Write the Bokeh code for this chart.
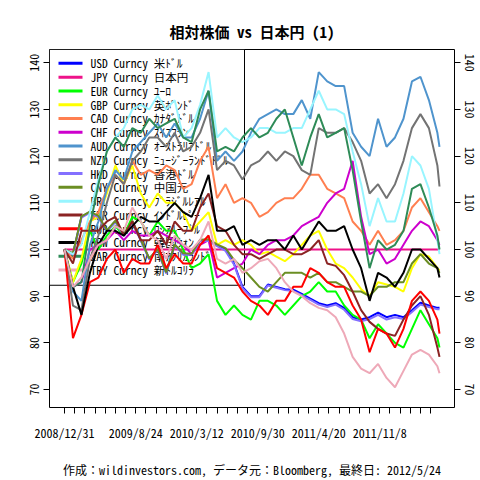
from bokeh.plotting import figure
from bokeh.models import FixedTicker, LinearAxis, Range1d
from bokeh.core.properties import value
from bokeh.embed import file_html
from bokeh.resources import INLINE

# ---------------- data ----------------
# trading-day index of each sample (day 0 = 2008/12/31, last = 2012/5/24)
sample_day = [0, 20, 40, 60, 80, 100, 120, 140, 160, 180, 200, 220, 240, 260, 280,
              300, 320, 340, 360, 380, 400, 420, 440, 460, 480, 500, 520, 540, 560,
              580, 600, 620, 640, 660, 680, 700, 720, 740, 760, 780, 800, 820, 840,
              860, 880, 885]

usd = [100, 99, 107, 108, 107, 104, 106, 103, 106, 102, 98, 100, 95, 101, 99, 99, 102, 102, 101, 100, 97,
       92, 90, 90, 92.5, 92, 91.5, 91.4, 90.5, 89.5, 88.5, 88, 88.5, 87.5, 85.5, 85, 85.5, 86.5, 85.5, 86,
       85.5, 87, 88.6, 88, 87.5, 87.5]
jpy = [100, 100, 100, 100, 100, 100, 100, 100, 100, 100, 100, 100, 100, 100, 100, 100, 100, 100, 100, 100,
       100, 100, 100, 100, 100, 100, 100, 100, 100, 100, 100, 100, 100, 100, 100, 100, 100, 100, 100, 100,
       100, 100, 100, 100, 100, 100]
eur = [100, 93, 97, 104, 100, 103, 105, 103, 107, 106, 103, 106, 104, 104, 100, 96, 97, 99, 89, 86, 88,
       86, 85, 89, 89, 88, 86, 88, 90, 91, 93, 91, 91, 88, 86, 85, 81, 84, 82, 80, 79, 83, 87, 84, 81, 79]
gbp = [100, 93, 98, 106, 107, 112, 118, 114, 118, 112, 109, 112, 110, 110, 108, 104, 106, 108, 101, 102, 101,
       102, 101, 99, 99.5, 98.5, 97.5, 99, 101, 103, 104, 100, 97, 96, 94, 91.5, 90, 93, 92.5, 92, 91, 96,
       99, 98.5, 96, 95.5]
cad = [100, 98, 102, 106, 108, 113, 116, 114, 119, 116, 117, 116, 118, 117, 113, 114, 119, 122, 111, 114, 110,
       111, 110, 107, 108, 110, 111, 111, 113, 116, 116, 113, 112, 111, 106, 104, 101, 104, 101, 102, 104,
       109, 111, 108, 105, 104]
chf = [100, 92, 93, 100, 101, 102, 104, 102, 104, 103, 103, 104, 103, 102, 101, 99, 101, 102, 94, 95, 96,
       97, 100, 99, 101, 102, 102, 103, 105, 106, 107, 110, 112, 113, 119, 107, 99, 100, 97, 98, 101, 104,
       106, 105, 102, 101]
aud = [100, 91, 89, 101, 106, 113, 117, 115, 121, 123, 125, 127, 124, 127, 124, 124, 128, 134, 119, 121, 119,
       121, 125, 128, 129, 130, 129, 129, 132, 128, 138, 136, 135, 135, 125, 122, 120, 128, 122, 124, 128,
       136, 137, 132, 125, 122]
nzd = [100, 88, 87, 98, 103, 110, 116, 114, 119, 121, 124, 124, 122, 125, 121, 122, 125, 130, 117, 119, 118,
       115, 118, 119, 121, 119, 121, 120, 117, 116, 126, 125, 125, 126, 123, 119, 112, 114, 111, 114, 119,
       126, 129, 126, 118, 113.5]
hkd = [100, 98.9, 106.8, 107.9, 106.9, 103.9, 105.9, 102.9, 105.9, 101.9, 97.9, 99.9, 94.9, 100.9, 98.9,
       98.9, 101.8, 101.8, 100.7, 99.7, 96.8, 91.7, 89.8, 89.8, 92.3, 91.8, 91.3, 91.1, 90.2, 89.2, 88.2,
       87.7, 88.2, 87.1, 85.1, 84.6, 85.1, 86.0, 85.0, 85.5, 85.1, 86.6, 88.2, 87.7, 87.2, 87.2]
cny = [100, 99.2, 107.1, 108.1, 107.2, 104.1, 106.2, 103.1, 106.2, 102.1, 98.1, 100.1, 95.1, 101.1, 99.2,
       99.1, 102.1, 102.2, 101.1, 100.3, 97.8, 96, 94, 92, 91, 93, 95, 95, 95, 94, 95, 93, 93, 92, 91, 91,
       90, 92, 92, 93, 93, 97, 99, 97, 96, 95]
brl = [100, 99, 101, 108, 115, 121, 124, 126, 130, 131, 130, 133, 130, 132, 124, 126, 131, 138, 124, 126, 124,
       123, 124, 126, 126, 125, 125, 126, 126, 130, 134, 130, 130, 129, 121, 114, 105, 111, 106, 106, 112,
       120, 118, 113, 102, 99]
inr = [100, 97, 104, 104, 104, 106, 107, 103, 106, 102, 102, 104, 101, 106, 104, 104, 109, 112, 105, 104, 101,
       99, 99, 98, 99, 100, 100, 99, 99, 100, 102, 97, 96.5, 94.5, 91, 87, 84.5, 83, 82, 81.5, 85, 88, 90,
       86, 79, 77]
rub = [100, 81, 86, 93, 94, 98, 100, 95, 98, 97, 97, 101, 96, 99, 97, 97, 101, 103, 96, 95, 94,
       91, 89, 88, 86, 89, 89, 92, 92, 96, 95, 93, 92, 92, 88, 85, 78, 83, 82, 79, 83, 89, 91, 89, 85, 82]
krw = [100, 92, 86, 95, 101, 104, 104, 103, 105, 107, 106, 106, 108, 110, 108, 107, 111, 116, 104, 104, 105,
       101, 102, 101, 102, 102, 100, 103, 100, 103, 106, 104, 104, 105, 100, 96, 89, 95, 94, 92, 95, 100,
       100, 98, 96, 94]
zar = [100, 92, 93, 105, 114, 121, 124, 122, 126, 125, 128, 126, 127, 128, 124, 123, 130, 134, 121, 122, 121,
       124, 126, 124, 125, 128, 130, 124, 118, 124, 129, 124, 125, 126, 117, 106, 96, 102, 100, 101, 104,
       113, 114, 109, 103, 100]
try_ = [100, 92, 94, 98, 101, 102, 105, 104, 109, 106, 103, 102, 98, 103, 101, 100, 102, 106, 98, 97, 98,
        95, 96, 97.5, 98, 96, 93, 91, 90, 88.5, 87.5, 87, 85.5, 82, 77, 74.5, 73.5, 75.5, 72.5, 70.5, 74,
        77.5, 78.5, 77.5, 75, 73.5]

series_values = [usd, jpy, eur, gbp, cad, chf, aud, nzd, hkd, cny, brl, inr, rub, krw, zar, try_]
series_labels = ["USD Curncy 米ﾄﾞﾙ", "JPY Curncy 日本円", "EUR Curncy ﾕｰﾛ", "GBP Curncy 英ﾎﾟﾝﾄﾞ",
                 "CAD Curncy ｶﾅﾀﾞﾄﾞﾙ", "CHF Curncy ｽｲｽﾌﾗﾝ", "AUD Curncy ｵｰｽﾄﾗﾘｱﾄﾞﾙ",
                 "NZD Curncy ﾆｭｰｼﾞｰﾗﾝﾄﾞﾄﾞﾙ", "HKD Curncy 香港ﾄﾞﾙ", "CNY Curncy 中国元",
                 "BRL Curncy ﾌﾞﾗｼﾞﾙﾚｱﾙ", "INR Curncy ｲﾝﾄﾞﾙﾋﾟｰ", "RUB Curncy ﾛｼｱﾙｰﾌﾞﾙ",
                 "KRW Curncy 韓国ｳｫﾝ", "ZAR Curncy 南ｱﾌﾘｶﾗﾝﾄﾞ", "TRY Curncy 新ﾄﾙｺﾘﾗ"]
series_colors = ["#0000FF", "#EE1289", "#00FF00", "#FFFF00", "#FF7F50", "#CD00CD", "#4F94CD", "#737373",
                 "#8470FF", "#6B8E23", "#98F5FF", "#8B2323", "#FF0000", "#000000", "#2E8B57", "#EEA9B8"]

tick_days = [0, 24, 48, 72, 96, 120, 144, 168, 192, 216, 240, 264, 288, 312, 336, 360, 384, 408, 432,
             456, 480, 504, 528, 552, 576, 600, 624, 648, 672, 696, 720, 744, 768, 792, 816, 840, 864]
label_days = [0, 168, 312, 456, 600, 744]
label_dates = ["2008/12/31", "2009/8/24", "2010/3/12", "2010/9/30", "2011/4/20", "2011/11/8"]
y_ticks = [70, 80, 90, 100, 110, 120, 130, 140]

title_text = "相対株価 vs 日本円 (1)"
footer_text = "作成：wildinvestors.com, データ元：Bloomberg, 最終日: 2012/5/24"

FONT = "Noto Sans Mono CJK JP"

# ---------------- layout (pixels) ----------------
W, H = 480, 480
FL, FR, FT, FB = 49, 454, 49, 418          # plot frame edges in pixels
X0, X1 = -35.4, 920.4                       # R-style 4% padded ranges
Y0, Y1 = 66.16, 142.84


def px_x(px):
    return X0 + (px - FL) / (FR - FL) * (X1 - X0)


def px_y(py):
    return Y1 - (py - FT) / (FB - FT) * (Y1 - Y0)


p = figure(width=W, height=H, output_backend="svg", toolbar_location=None,
           x_range=Range1d(X0, X1), y_range=Range1d(Y0, Y1),
           min_border_left=FL, min_border_right=W - FR, min_border_top=FT, min_border_bottom=H - FB)
p.background_fill_color = "white"
p.border_fill_color = "white"
p.xgrid.visible = False
p.ygrid.visible = False
p.outline_line_color = "black"
p.outline_line_alpha = 1.0
p.outline_line_width = 1

p.title.text = title_text
p.title.align = "center"
p.title.text_font = FONT
p.title.text_font_size = "15px"
p.title.text_font_style = "bold"
p.title.text_color = "black"
p.title.standoff = 16


def style_axis(ax, size):
    ax.axis_line_color = None
    ax.major_tick_out = 6
    ax.major_tick_in = 0
    ax.minor_tick_out = 0
    ax.minor_tick_in = 0
    ax.major_tick_line_color = "black"
    ax.major_label_text_font = FONT
    ax.major_label_text_font_size = size
    ax.major_label_text_color = "black"


xax = p.xaxis[0]
xax.ticker = FixedTicker(ticks=tick_days)
overrides = {d: "" for d in tick_days}
for d, s in zip(label_days, label_dates):
    overrides[d] = s
xax.major_label_overrides = overrides
style_axis(xax, "12px")
xax.major_label_standoff = 10
xax.axis_label = footer_text
xax.axis_label_text_font = FONT
xax.axis_label_text_font_size = "12px"
xax.axis_label_text_font_style = "normal"
xax.axis_label_text_color = "black"
xax.axis_label_standoff = 17

yax = p.yaxis[0]
yax.ticker = FixedTicker(ticks=y_ticks)
yax.major_label_orientation = "vertical"
style_axis(yax, "12px")
yax.major_label_standoff = 4

rax = LinearAxis(ticker=FixedTicker(ticks=y_ticks), major_label_orientation="vertical")
style_axis(rax, "12px")
rax.major_label_standoff = 4
p.add_layout(rax, "right")

# ---------------- legend (drawn first, so the series lines pass over it) ----------------
LEG_R, LEG_B = 244, 292
ROW0, ROW_STEP = 63.3, 14.2
p.quad(left=[px_x(FL)], right=[px_x(LEG_R)], top=[px_y(FT)], bottom=[px_y(LEG_B)],
       fill_color="white", line_color="black", line_width=1)
rows_y = [px_y(ROW0 + i * ROW_STEP) for i in range(len(series_labels))]
p.segment(x0=[px_x(58)] * len(rows_y), x1=[px_x(82)] * len(rows_y), y0=rows_y, y1=rows_y,
          line_color=series_colors, line_width=3)
p.text(x=[px_x(90)] * len(rows_y), y=rows_y, text=series_labels,
       text_font=value(FONT), text_font_size=value("11.5px"), text_color="black",
       text_baseline="middle", text_align="left")

# ---------------- series ----------------
for vals, col in zip(series_values, series_colors):
    p.line(sample_day, vals, line_color=col, line_width=2)

open("out.html", "w").write(file_html(p, INLINE))
